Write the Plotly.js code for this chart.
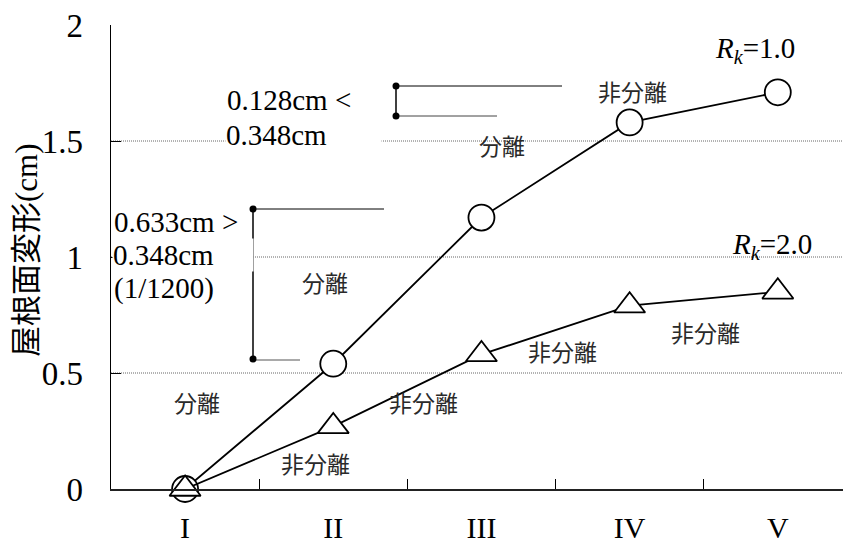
<!DOCTYPE html>
<html>
<head>
<meta charset="utf-8">
<script src="https://cdn.plot.ly/plotly-3.0.1.min.js"></script>
<style>
  html, body { margin: 0; padding: 0; background: #fff; }
  #plot { width: 843px; height: 548px; }
</style>
</head>
<body>
<div id="plot"></div>
<script>
document.addEventListener("DOMContentLoaded", function(event) {

  const categories = ['I', 'II', 'III', 'IV', 'V'];
  const rk1Values = [0, 0.54, 1.17, 1.58, 1.71];
  const rk2Values = [0, 0.27, 0.58, 0.79, 0.85];
  const yTickVals = [0, 0.5, 1, 1.5, 2];
  const yTickText = ['0', '0.5', '1', '1.5', '2'];
  const gridVals = [0.5, 1, 1.5];

  const serif = 'Liberation Serif, Times New Roman, serif';
  const cjk = 'Noto Sans CJK JP, sans-serif';

  // plot area in pixels, used to place the text boxes
  const L = 111, R = 843, T = 25, B = 489;
  const px = x => (x - L) / (R - L);
  const py = y => (B - y) / (B - T);

  const note = (text, x, y, extra) => Object.assign({
    text: text,
    xref: 'paper', yref: 'paper',
    x: px(x), y: py(y),
    xanchor: 'center', yanchor: 'middle',
    showarrow: false,
    font: {family: cjk, size: 23, color: '#2a2a2a'}
  }, extra || {});

  const serifNote = (text, x, y, extra) => note(text, x, y, Object.assign({
    xanchor: 'left',
    align: 'left',
    font: {family: serif, size: 29, color: '#000'}
  }, extra || {}));

  const trace1 = {
    x: categories,
    y: rk1Values,
    name: 'Rk=1.0',
    type: 'scatter',
    mode: 'lines+markers',
    cliponaxis: false,
    line: {color: '#000', width: 1.8},
    marker: {symbol: 'circle', size: 26, color: '#fff', line: {color: '#000', width: 1.8}}
  };

  const trace2 = {
    x: categories,
    y: rk2Values,
    name: 'Rk=2.0',
    type: 'scatter',
    mode: 'lines+markers',
    cliponaxis: false,
    line: {color: '#000', width: 1.8},
    marker: {symbol: 'triangle-up', size: 27, color: '#fff', line: {color: '#000', width: 1.8}}
  };

  const shapes = gridVals.map(v => ({
    type: 'line', layer: 'below',
    xref: 'paper', yref: 'y',
    x0: 0, x1: 1, y0: v, y1: v,
    line: {color: '#666', width: 1, dash: '1px,1px'}
  }));

  const seg = (x0, y0, x1, y1, color, width) => ({
    type: 'line', xref: 'paper', yref: 'paper',
    x0: px(x0), y0: py(y0), x1: px(x1), y1: py(y1),
    line: {color: color, width: width}
  });
  const dot = (x, y) => ({
    type: 'circle', xref: 'paper', yref: 'paper',
    x0: px(x - 3.5), x1: px(x + 3.5), y0: py(y + 3.5), y1: py(y - 3.5),
    fillcolor: '#000', line: {width: 0}
  });

  // brackets
  shapes.push(
    seg(396, 86, 396, 116, '#000', 1.5),
    seg(396, 86, 562, 86, '#000', 1),
    seg(396, 116, 497, 116, '#444', 1),
    dot(396, 86), dot(396, 116),
    seg(253, 209, 253, 359, '#000', 1.5),
    seg(253, 209, 384, 209, '#000', 1),
    seg(253, 360, 300, 360, '#555', 1),
    dot(253, 209), dot(253, 359)
  );

  const annotations = [
    serifNote('0.128cm &lt;', 225, 100),
    serifNote('0.348cm', 225, 135, {bgcolor: '#fff', width: 155, borderpad: 0}),
    serifNote('0.633cm &gt;', 112, 222),
    serifNote('0.348cm', 112, 255, {bgcolor: '#fff', width: 140, borderpad: 0}),
    serifNote('(1/1200)', 112, 288),
    note('<i>R<sub>k</sub></i>=1.0', 755, 50, {font: {family: serif, size: 29, color: '#000'}}),
    note('<i>R<sub>k</sub></i>=2.0', 772, 246, {font: {family: serif, size: 29, color: '#000'}}),
    note('非分離', 632, 91),
    note('分離', 502, 145),
    note('分離', 325, 282),
    note('分離', 197, 402),
    note('非分離', 315, 463),
    note('非分離', 423, 402),
    note('非分離', 562, 351),
    note('非分離', 705, 332),
    note('屋根面変形(cm)', 26, 250, {
      textangle: -90,
      font: {family: serif + ', ' + cjk, size: 31, color: '#000'}
    })
  ];

  const layout = {
    width: 843,
    height: 548,
    margin: {l: L, r: 843 - R, t: T, b: 548 - B},
    paper_bgcolor: '#fff',
    plot_bgcolor: '#fff',
    showlegend: false,
    xaxis: {
      type: 'category',
      range: [-0.5, 4.44],
      tickson: 'boundaries',
      ticks: 'inside',
      ticklen: 10,
      tickcolor: '#000',
      showgrid: false,
      showline: true,
      linecolor: '#222',
      linewidth: 2,
      ticklabelstandoff: 11,
      tickfont: {family: serif, size: 30, color: '#000'}
    },
    yaxis: {
      range: [0, 2],
      tickvals: yTickVals,
      ticktext: yTickText,
      ticks: 'inside',
      ticklen: 10,
      tickcolor: '#000',
      showgrid: false,
      zeroline: false,
      showline: true,
      linecolor: '#000',
      linewidth: 1.5,
      ticklabelstandoff: 20,
      tickfont: {family: serif, size: 33, color: '#000'}
    },
    shapes: shapes,
    annotations: annotations
  };

  Plotly.newPlot('plot', [trace1, trace2], layout, {staticPlot: true});
});
</script>
</body>
</html>
